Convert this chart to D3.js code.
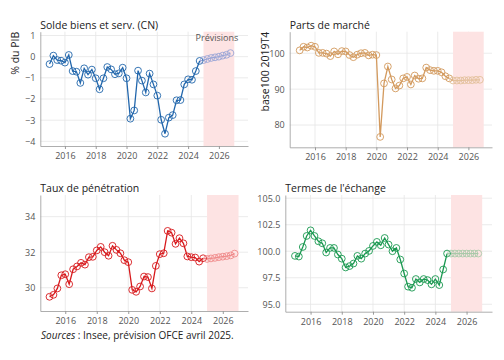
<!DOCTYPE html>
<html><head><meta charset="utf-8">
<script src="https://cdn.jsdelivr.net/npm/d3@7"></script>
<style>
body{margin:0;background:#fff;}
text{font-family:"Open Sans",sans-serif;}
</style></head>
<body><svg id="c" width="504" height="360"></svg>
<script>
// quarters 2015Q1 .. 2024Q4 (historical) and 2025Q1 .. 2026Q4 (forecast)
const histYears = d3.range(2015, 2025);
const fcYears = [2025, 2026];
const xTicks = [2016, 2018, 2020, 2022, 2024, 2026];

const soldeHist = [-0.35,0.05,-0.16,-0.19, -0.28,0.08,-0.68,-0.71, -1.24,-0.55,-0.85,-0.61,
  -1.02,-1.54,-1.02,-0.49, -0.60,-0.83,-0.79,-0.52, -1.02,-2.93,-2.54,-0.66,
  -1.13,-1.69,-0.80,-1.31, -1.84,-2.98,-3.64,-2.88, -2.76,-2.06,-2.05,-1.31,
  -1.07,-1.09,-0.68,-0.20];
const soldeFc = [-0.16,-0.11,-0.06,-0.03, 0.00,0.05,0.09,0.17];

const partsHist = [100.8,101.8,101.6,102.1, 101.8,100.1,100.1,99.9, 99.2,100.5,99.7,100.6,
  100.5,99.5,98.9,99.6, 100.0,100.1,99.4,99.6, 99.5,76.7,91.6,96.3,
  92.7,90.2,91.0,93.0, 93.4,91.3,93.8,92.9, 93.0,96.0,95.3,95.1,
  95.1,94.7,93.6,93.0];
const partsFc = [92.4,92.4,92.4,92.5, 92.5,92.5,92.6,92.6];

const tauxHist = [29.49,29.60,29.96,30.70, 30.76,30.20,31.04,31.20, 31.40,31.30,31.72,31.74,
  32.10,32.30,32.00,31.80, 32.36,32.13,31.94,31.55, 31.44,29.88,29.77,30.07,
  30.63,30.60,29.96,31.23, 31.89,31.94,33.20,33.10, 32.47,32.79,32.50,31.76,
  31.72,31.70,31.47,31.66];
const tauxFc = [31.62,31.65,31.68,31.72, 31.75,31.78,31.82,31.92];

const termesHist = [99.56,99.50,100.40,101.44, 101.97,101.44,100.94,100.75, 99.88,100.31,100.31,99.69,
  99.30,98.47,98.60,98.84, 99.56,99.30,99.78,100.03, 100.50,100.88,100.56,101.25,
  100.63,100.00,100.31,99.22, 97.90,96.66,96.56,97.38, 97.06,97.38,97.28,96.88,
  97.38,96.81,98.28,99.78];
const termesFc = [99.78,99.78,99.78,99.78, 99.78,99.78,99.78,99.78];

const titles = ["Solde biens et serv. (CN)", "Parts de marché", "Taux de pénétration", "Termes de l'échange"];
const yTitles = ["% du PIB", "base100 2019T4", "", ""];

function quarters(years){ const out=[]; years.forEach(y=>{for(let q=0;q<4;q++) out.push(y+q/4);}); return out; }
const tHist = quarters(histYears), tFc = quarters(fcYears);

const panels = [
  {box:[40.3,248,31.7,146], xd:[2014.40,2027.89], yd:[-4.22,1.18], yt:[-4,-3,-2,-1,0,1], fmt:d3.format("d"),
   hist:soldeHist, fc:soldeFc, col:"#2166ac", fcol:"#9aa5d6", prev:true},
  {box:[289.7,492,31.7,147.3], xd:[2014.35,2027.54], yd:[73.8,106.0], yt:[80,90,100], fmt:d3.format("d"),
   hist:partsHist, fc:partsFc, col:"#d39a5e", fcol:"#e2bf9a"},
  {box:[40.3,248,195,311], xd:[2014.416,2027.60], yd:[28.69,35.22], yt:[30,32,34], fmt:d3.format("d"),
   hist:tauxHist, fc:tauxFc, col:"#d7191c", fcol:"#ef8a8a"},
  {box:[285.3,492,195,311.7], xd:[2014.38,2027.63], yd:[94.3,105.3], yt:[95,97.5,100,102.5,105], fmt:d3.format(".1f"),
   hist:termesHist, fc:termesFc, col:"#1a9850", fcol:"#a9c9a9"}
];

const svg = d3.select("#c");
panels.forEach((p,i)=>{
  const [l,r,t,b] = p.box;
  const x = d3.scaleLinear().domain(p.xd).range([l,r]);
  const y = d3.scaleLinear().domain(p.yd).range([b,t]);
  const g = svg.append("g");
  // grid
  g.selectAll(".gx").data(xTicks).join("line").attr("x1",d=>x(d)).attr("x2",d=>x(d)).attr("y1",t).attr("y2",b)
    .attr("stroke","#e6e6e6").attr("stroke-width",0.8);
  g.selectAll(".gy").data(p.yt).join("line").attr("x1",l).attr("x2",r).attr("y1",d=>y(d)).attr("y2",d=>y(d))
    .attr("stroke","#e6e6e6").attr("stroke-width",0.8);
  // forecast shading
  g.append("rect").attr("x",x(2025)).attr("width",x(2027)-x(2025)).attr("y",t).attr("height",b-t)
    .attr("fill","#fde3e3");
  // axes
  const xa = g.append("g").attr("transform",`translate(0,${b})`)
    .call(d3.axisBottom(x).tickValues(xTicks).tickFormat(d3.format("d")).tickSize(3).tickSizeOuter(0).tickPadding(3));
  const ya = g.append("g").attr("transform",`translate(${l},0)`)
    .call(d3.axisLeft(y).tickValues(p.yt).tickFormat(p.fmt).tickSize(0).tickPadding(5));
  [xa,ya].forEach(a=>{
    a.select(".domain").attr("stroke","#999").attr("stroke-width",0.8);
    a.selectAll(".tick line").attr("stroke","#999");
    a.selectAll("text").attr("fill","#555").style("font-size","9px").style("font-family","Open Sans");
  });
  xa.selectAll("text").attr("dy","0.8em");
  // title
  g.append("text").attr("x",l).attr("y",t-3).text(titles[i]).attr("fill","#222").style("font-size","10.5px");
  if (yTitles[i]) {
    g.append("text").attr("transform",`translate(${l-21},${t}) rotate(-90)`).attr("text-anchor","end")
      .attr("fill","#222").style("font-size","10.5px").text(yTitles[i]);
  }
  if (p.prev) {
    g.append("text").attr("x",x(2027)+4).attr("y",t+9).attr("text-anchor","end").attr("fill","#555")
      .style("font-size","9px").text("Prévisions");
  }
  const hist = tHist.map((tt,k)=>[tt,p.hist[k]]);
  const fc = [[tHist[tHist.length-1], p.hist[p.hist.length-1]]].concat(tFc.map((tt,k)=>[tt,p.fc[k]]));
  const line = d3.line().x(d=>x(d[0])).y(d=>y(d[1]));
  g.append("path").attr("d",line(fc)).attr("fill","none").attr("stroke",p.fcol).attr("stroke-width",1.2);
  g.append("path").attr("d",line(hist)).attr("fill","none").attr("stroke",p.col).attr("stroke-width",1.3);
  g.selectAll(".mh").data(hist).join("circle").attr("cx",d=>x(d[0])).attr("cy",d=>y(d[1])).attr("r",3.4)
    .attr("fill","none").attr("stroke",p.col).attr("stroke-width",0.9);
  g.selectAll(".mf").data(fc.slice(1)).join("circle").attr("cx",d=>x(d[0])).attr("cy",d=>y(d[1])).attr("r",3.4)
    .attr("fill","none").attr("stroke",p.fcol).attr("stroke-width",0.9);
});

const src = svg.append("text").attr("x",41).attr("y",339).attr("fill","#222").style("font-size","10px");
src.append("tspan").style("font-style","italic").text("Sources");
src.append("tspan").text(" : Insee, prévision OFCE avril 2025.");
</script></body></html>
